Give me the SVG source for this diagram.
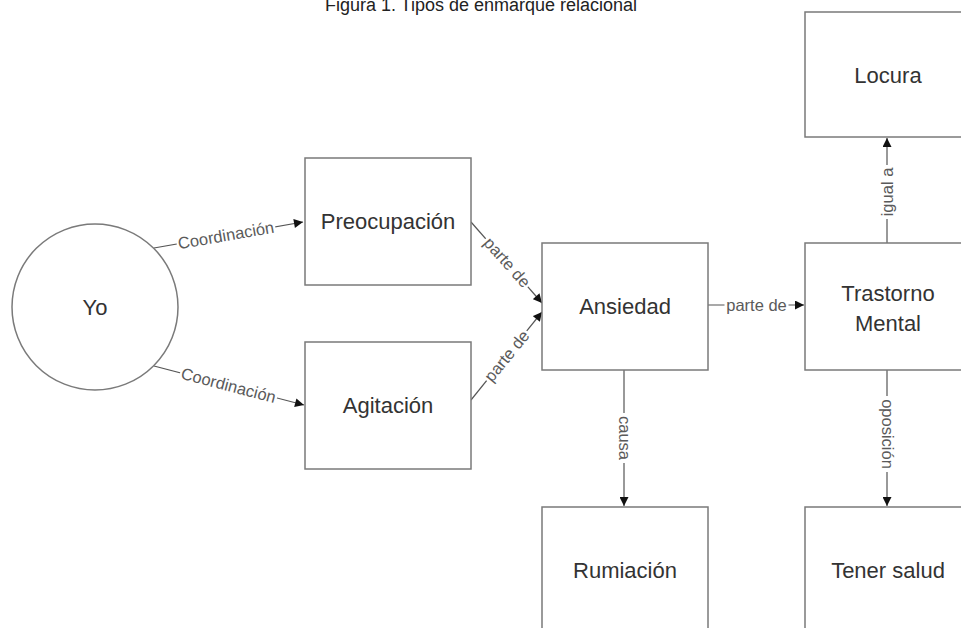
<svg xmlns="http://www.w3.org/2000/svg" width="961" height="628" viewBox="0 0 961 628">
<style>
.box{fill:#fff;stroke:#7a7a7a;stroke-width:1.5}
.nt{font-family:"Liberation Sans",Arial,sans-serif;font-size:22px;fill:#333;text-anchor:middle}
.edge{fill:none;stroke:#555;stroke-width:1.2}
.lb{font-family:"Liberation Sans",Arial,sans-serif;font-size:16.5px;fill:#5a5a5a;text-anchor:middle}
.lbg{fill:#fff}
.title{font-family:"Liberation Sans",Arial,sans-serif;font-size:18px;fill:#222;text-anchor:middle}
</style>
<defs>
<marker id="arr" viewBox="0 0 10 10" refX="10" refY="5" markerWidth="10" markerHeight="9" markerUnits="userSpaceOnUse" orient="auto">
<path d="M0,0 L10,5 L0,10 Z" fill="#111"/>
</marker>
</defs>
<rect width="961" height="628" fill="#fff"/>
<text class="title" x="481" y="11">Figura 1. Tipos de enmarque relacional</text>
<g id="connectors">
<path class="edge" d="M154,248 L303,222" marker-end="url(#arr)"/>
<path class="edge" d="M154,366 L304,405" marker-end="url(#arr)"/>
<path class="edge" d="M471,222 L542,303" marker-end="url(#arr)"/>
<path class="edge" d="M471,400 L542,312" marker-end="url(#arr)"/>
<path class="edge" d="M708,305 L804,305" marker-end="url(#arr)"/>
<path class="edge" d="M624,370 L624,506" marker-end="url(#arr)"/>
<path class="edge" d="M887,243 L887,138" marker-end="url(#arr)"/>
<path class="edge" d="M887,370 L887,506" marker-end="url(#arr)"/>
<g transform="translate(226,235.5) rotate(-9.9)"><rect class="lbg" x="-50" y="-8" width="100" height="16"/><text class="lb" y="5.5">Coordinación</text></g>
<g transform="translate(228.5,385.5) rotate(14.7)"><rect class="lbg" x="-50" y="-8" width="100" height="16"/><text class="lb" y="5.5">Coordinación</text></g>
<g transform="translate(507,262.5) rotate(48.4)"><rect class="lbg" x="-32" y="-8" width="64" height="16"/><text class="lb" y="5.5">parte de</text></g>
<g transform="translate(507,356) rotate(-50.7)"><rect class="lbg" x="-32" y="-8" width="64" height="16"/><text class="lb" y="5.5">parte de</text></g>
<g transform="translate(756.5,305)"><rect class="lbg" x="-32" y="-8" width="64" height="16"/><text class="lb" y="5.5">parte de</text></g>
<g transform="translate(624,438) rotate(90)"><rect class="lbg" x="-25" y="-8" width="50" height="16"/><text class="lb" y="5.5">causa</text></g>
<g transform="translate(887,192) rotate(-90)"><rect class="lbg" x="-27" y="-8" width="54" height="16"/><text class="lb" y="5.5">igual a</text></g>
<g transform="translate(887,434) rotate(90)"><rect class="lbg" x="-38" y="-8" width="76" height="16"/><text class="lb" y="5.5">oposición</text></g>
</g>
<g id="yo"><circle class="box" cx="95" cy="307" r="83"/><text class="nt" x="95" y="315">Yo</text></g>
<g id="preocupacion"><rect class="box" x="305" y="158" width="166" height="127"/><text class="nt" x="388" y="229">Preocupación</text></g>
<g id="agitacion"><rect class="box" x="305" y="342" width="166" height="127"/><text class="nt" x="388" y="413">Agitación</text></g>
<g id="ansiedad"><rect class="box" x="542" y="243" width="166" height="127"/><text class="nt" x="625" y="314">Ansiedad</text></g>
<g id="trastorno"><rect class="box" x="805" y="243" width="166" height="127"/><text class="nt" x="888" y="301">Trastorno</text><text class="nt" x="888" y="331">Mental</text></g>
<g id="locura"><rect class="box" x="805" y="12" width="166" height="125"/><text class="nt" x="888" y="83">Locura</text></g>
<g id="rumiacion"><rect class="box" x="542" y="507" width="166" height="127"/><text class="nt" x="625" y="578">Rumiación</text></g>
<g id="tenersalud"><rect class="box" x="805" y="507" width="166" height="127"/><text class="nt" x="888" y="578">Tener salud</text></g>
</svg>
